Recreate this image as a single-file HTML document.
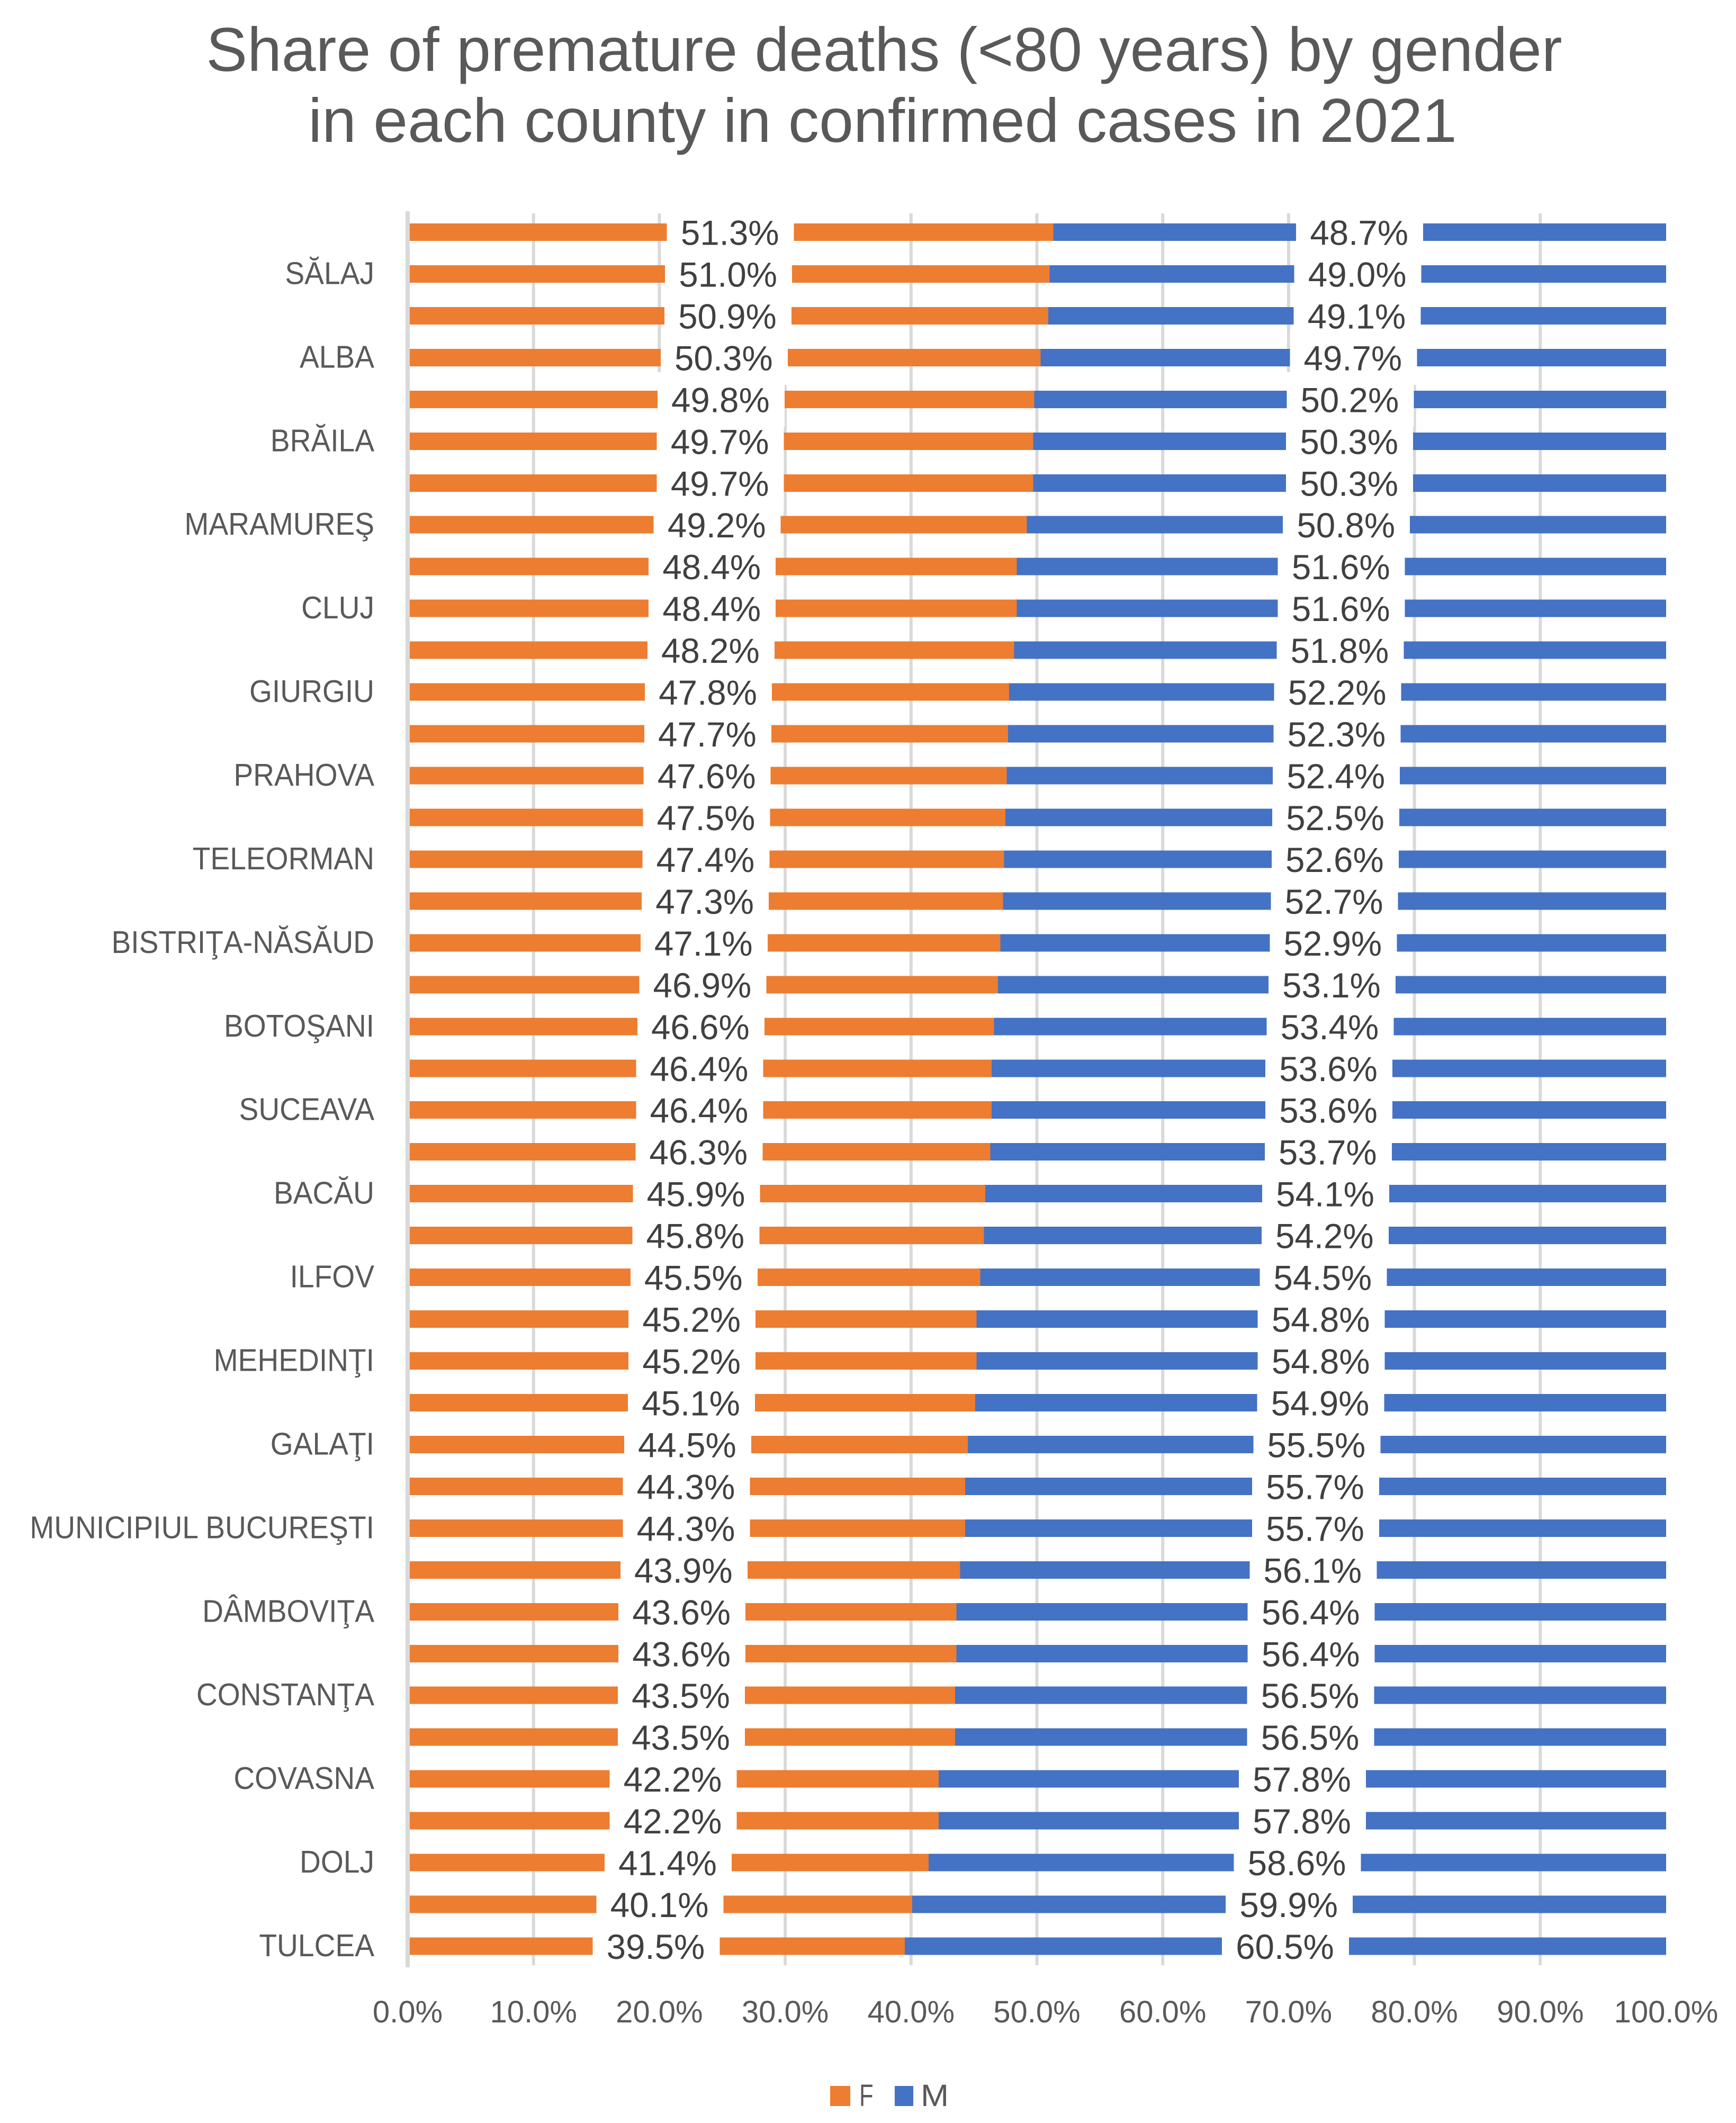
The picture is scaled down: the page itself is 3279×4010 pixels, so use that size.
<!DOCTYPE html>
<html lang="en">
<head>
<meta charset="utf-8">
<title>Share of premature deaths by gender</title>
<style>
html,body{margin:0;padding:0;background:#fff;}
svg{display:block;}
text{font-family:"Liberation Sans",sans-serif;}
</style>
</head>
<body>
<svg id="chart" xmlns="http://www.w3.org/2000/svg" width="3279" height="4010" viewBox="0 0 3279 4010">
  <rect x="0" y="0" width="3279" height="4010" fill="#ffffff"/>
  <text x="1670" y="134" text-anchor="middle" font-size="116.5" fill="#595959">Share of premature deaths (&lt;80 years) by gender</text>
  <text x="1667" y="268" text-anchor="middle" font-size="116.5" fill="#595959">in each county in confirmed cases in 2021</text>
  <g id="gridlines"></g>
  <g id="bars"></g>
  <g id="label-boxes"></g>
  <g id="axis-line"></g>
  <g id="labels"></g>
  <g id="categories"></g>
  <g id="ticks"></g>
  <g>
    <rect x="1568" y="3940" width="38" height="38" fill="#ed7d31"/>
    <text transform="translate(1623,3978) scale(.75,1)" font-size="58" fill="#595959">F</text>
    <rect x="1690" y="3940" width="35" height="38" fill="#4472c4"/>
    <text transform="translate(1739,3978) scale(1.1,1)" font-size="58" fill="#595959">M</text>
  </g>
</svg>
<script>
const categories = ["", "SĂLAJ", "", "ALBA", "", "BRĂILA", "", "MARAMUREŞ", "", "CLUJ", "", "GIURGIU", "", "PRAHOVA", "", "TELEORMAN", "", "BISTRIŢA-NĂSĂUD", "", "BOTOŞANI", "", "SUCEAVA", "", "BACĂU", "", "ILFOV", "", "MEHEDINŢI", "", "GALAŢI", "", "MUNICIPIUL BUCUREŞTI", "", "DÂMBOVIŢA", "", "CONSTANŢA", "", "COVASNA", "", "DOLJ", "", "TULCEA"];
const femaleValues = [51.3, 51.0, 50.9, 50.3, 49.8, 49.7, 49.7, 49.2, 48.4, 48.4, 48.2, 47.8, 47.7, 47.6, 47.5, 47.4, 47.3, 47.1, 46.9, 46.6, 46.4, 46.4, 46.3, 45.9, 45.8, 45.5, 45.2, 45.2, 45.1, 44.5, 44.3, 44.3, 43.9, 43.6, 43.6, 43.5, 43.5, 42.2, 42.2, 41.4, 40.1, 39.5];
const maleValues = [48.7, 49.0, 49.1, 49.7, 50.2, 50.3, 50.3, 50.8, 51.6, 51.6, 51.8, 52.2, 52.3, 52.4, 52.5, 52.6, 52.7, 52.9, 53.1, 53.4, 53.6, 53.6, 53.7, 54.1, 54.2, 54.5, 54.8, 54.8, 54.9, 55.5, 55.7, 55.7, 56.1, 56.4, 56.4, 56.5, 56.5, 57.8, 57.8, 58.6, 59.9, 60.5];
const tickValues = [0, 10, 20, 30, 40, 50, 60, 70, 80, 90, 100];

const NS = "http://www.w3.org/2000/svg";
const plotLeft = 770, plotRight = 3147;
const firstRowCenter = 438.5, lastRowCenter = 3676;
const barHeight = 33, boxWidth = 240, boxHeight = 103;

function xScale(v) { return plotLeft + (plotRight - plotLeft) * v / 100; }
function yScale(i) { return firstRowCenter + (lastRowCenter - firstRowCenter) * i / (categories.length - 1); }
function make(tag, attrs, parent) {
  const el = document.createElementNS(NS, tag);
  for (const k in attrs) el.setAttribute(k, attrs[k]);
  parent.appendChild(el);
  return el;
}

const gridG = document.getElementById("gridlines");
const barsG = document.getElementById("bars");
const boxG = document.getElementById("label-boxes");
const axisG = document.getElementById("axis-line");
const labelG = document.getElementById("labels");
const catG = document.getElementById("categories");
const tickG = document.getElementById("ticks");

tickValues.forEach(function (t) {
  if (t !== 0 && t !== 100) {
    const g = make("rect", { x: xScale(t) - 3, y: 403, width: 6, height: 3309, fill: "#d9d9d9" }, gridG);
    
    
  }
  const lbl = make("text", { transform: "translate(" + xScale(t) + ",3820) scale(1,1)", "text-anchor": "middle", "font-size": 58, fill: "#595959" }, tickG);
  lbl.textContent = t.toFixed(1) + "%";
  
  
});

const axisEl = make("rect", { x: plotLeft - 4, y: 399, width: 8, height: 3317, fill: "#d9d9d9" }, axisG);



categories.forEach(function (name, i) {
  const cy = yScale(i);
  const f = femaleValues[i], m = maleValues[i];
  const x0 = xScale(0), x1 = xScale(f), x2 = xScale(f + m);

  const fBar = make("rect", { x: x0, y: cy - barHeight / 2, width: x1 - x0, height: barHeight, fill: "#ed7d31", "shape-rendering": "crispEdges" }, barsG);
  
  
  const mBar = make("rect", { x: x1, y: cy - barHeight / 2, width: x2 - x1, height: barHeight, fill: "#4472c4", "shape-rendering": "crispEdges" }, barsG);
  
  

  const fc = xScale(f / 2), mc = xScale(f + m / 2);
  const fBox = make("rect", { x: fc - boxWidth / 2, y: cy - boxHeight / 2, width: boxWidth, height: boxHeight, fill: "#ffffff", "shape-rendering": "crispEdges" }, boxG);
  
  
  const mBox = make("rect", { x: mc - boxWidth / 2, y: cy - boxHeight / 2, width: boxWidth, height: boxHeight, fill: "#ffffff", "shape-rendering": "crispEdges" }, boxG);
  
  

  const fText = make("text", { x: fc - 1, y: cy + 24, "text-anchor": "middle", "font-size": 65.5, fill: "#404040" }, labelG);
  fText.textContent = f.toFixed(1) + "%";
  
  
  const mText = make("text", { x: mc - 1, y: cy + 24, "text-anchor": "middle", "font-size": 65.5, fill: "#404040" }, labelG);
  mText.textContent = m.toFixed(1) + "%";
  
  

  if (name) {
    const c = make("text", { transform: "translate(707," + (cy + 19) + ") scale(.935,1)", "text-anchor": "end", "font-size": 59, fill: "#595959" }, catG);
    c.textContent = name;
    
    
  }
});
</script>
</body>
</html>
